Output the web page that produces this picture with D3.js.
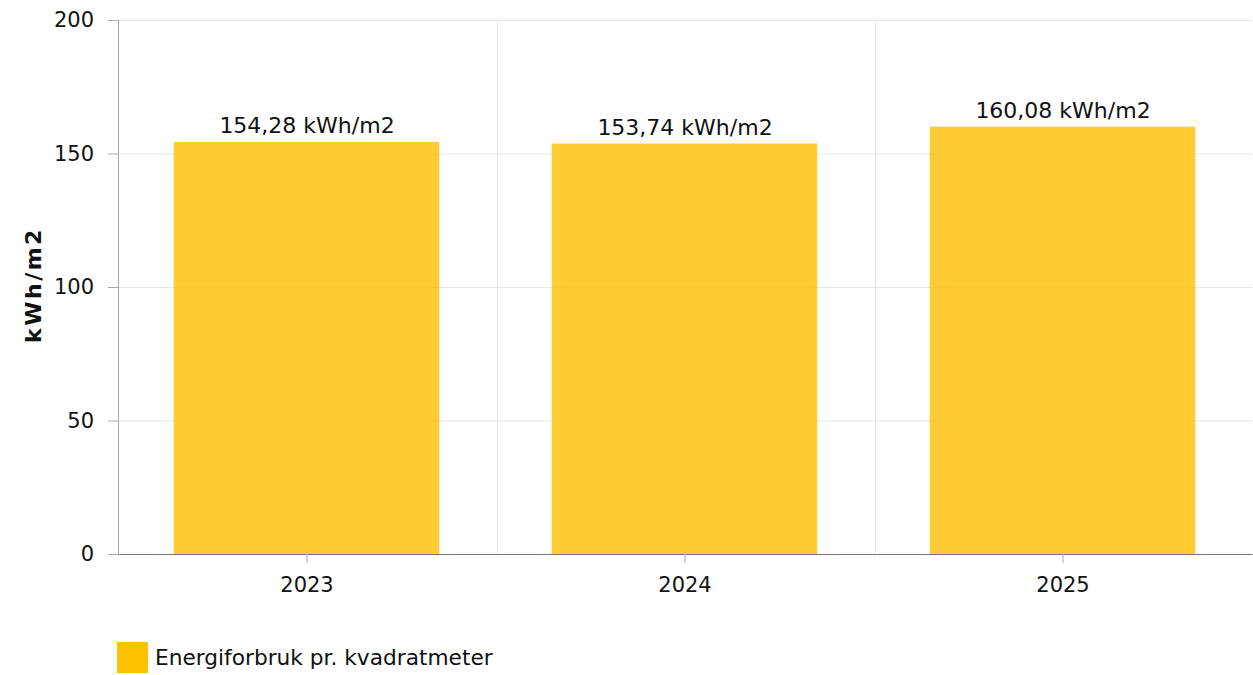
<!DOCTYPE html>
<html>
<head>
<meta charset="utf-8">
<script src="https://cdn.jsdelivr.net/npm/d3@7"></script>
<style>
  body { margin: 0; background: #fff; font-family: "DejaVu Sans", Verdana, sans-serif; }
</style>
</head>
<body>
<div id="chart"></div>
<script>
// data
var years = ["2023", "2024", "2025"];
var values = [154.28, 153.74, 160.08];
var yTicks = [0, 50, 100, 150, 200];
var seriesName = "Energiforbruk pr. kvadratmeter";
var yTitle = "kWh/m2";

var W = 1253, H = 675;
var margin = {left: 118, right: 1, top: 20, bottom: 121};
var width = W - margin.left - margin.right;
var height = H - margin.top - margin.bottom;
var font = "DejaVu Sans, Verdana, sans-serif";

var svg = d3.select("#chart").append("svg")
  .attr("width", W)
  .attr("height", H);

var g = svg.append("g")
  .attr("transform", "translate(" + margin.left + "," + margin.top + ")");

var x = d3.scaleBand()
  .domain(years)
  .range([0, width]);

var y = d3.scaleLinear()
  .domain([0, 200])
  .range([height, 0]);

// horizontal grid
g.selectAll(".hgrid").data(yTicks).enter().append("line")
  .attr("x1", 0).attr("x2", width)
  .attr("y1", function(d) { return y(d) + 0.5; })
  .attr("y2", function(d) { return y(d) + 0.5; })
  .attr("stroke", "#e6e6e6");

// vertical grid at category boundaries
g.selectAll(".vgrid").data(years).enter().append("line")
  .attr("x1", function(d) { return Math.round(x(d) + x.step()) + 1.5; })
  .attr("x2", function(d) { return Math.round(x(d) + x.step()) + 1.5; })
  .attr("y1", 0).attr("y2", height)
  .attr("stroke", "#e6e6e6");

// bars
g.selectAll(".bar").data(values).enter().append("rect")
  .attr("x", function(d, i) { return x(years[i]) + x.bandwidth() * 0.15 - 1; })
  .attr("width", x.bandwidth() * 0.7 + 1)
  .attr("y", function(d) { return y(d); })
  .attr("height", function(d) { return height - y(d); })
  .attr("fill", "#ffc000")
  .attr("fill-opacity", 0.8);

// value labels
g.selectAll(".lbl").data(values).enter().append("text")
  .attr("x", function(d, i) { return x(years[i]) + x.bandwidth() / 2; })
  .attr("y", function(d) { return y(d) - 9; })
  .attr("text-anchor", "middle")
  .attr("font-size", "22px")
  .attr("fill", "#111")
  .text(function(d) { return d.toFixed(2).replace(".", ",") + " kWh/m2"; });

// y axis
var yAxis = g.append("g").call(d3.axisLeft(y).tickValues(yTicks).tickSize(10).tickPadding(14));
yAxis.select(".domain").attr("stroke", "#aaa");
yAxis.selectAll(".tick line").attr("stroke", "#aaa");
yAxis.selectAll("text").attr("font-size", "21px").attr("fill", "#111")
  .attr("font-family", font);

// x axis
var xAxis = g.append("g")
  .attr("transform", "translate(0," + height + ")")
  .call(d3.axisBottom(x).tickSize(9).tickSizeOuter(0).tickPadding(14));
xAxis.select(".domain").attr("stroke", "#777");
xAxis.selectAll(".tick line").attr("stroke", "#aaa");
xAxis.selectAll("text").attr("font-size", "21px").attr("fill", "#111")
  .attr("font-family", font);

// y title
svg.append("text")
  .attr("transform", "translate(41," + (margin.top + height / 2 - 2) + ") rotate(-90)")
  .attr("text-anchor", "middle")
  .attr("font-size", "22px")
  .attr("font-weight", "bold")
  .attr("letter-spacing", "2.5px")
  .attr("fill", "#111")
  .text(yTitle);

// legend
var leg = svg.append("g").attr("transform", "translate(117,642)");
leg.append("rect").attr("width", 31).attr("height", 31).attr("fill", "#ffc000");
leg.append("text").attr("x", 38).attr("y", 23)
  .attr("font-size", "21.7px").attr("fill", "#111")
  .text(seriesName);
</script>
</body>
</html>
